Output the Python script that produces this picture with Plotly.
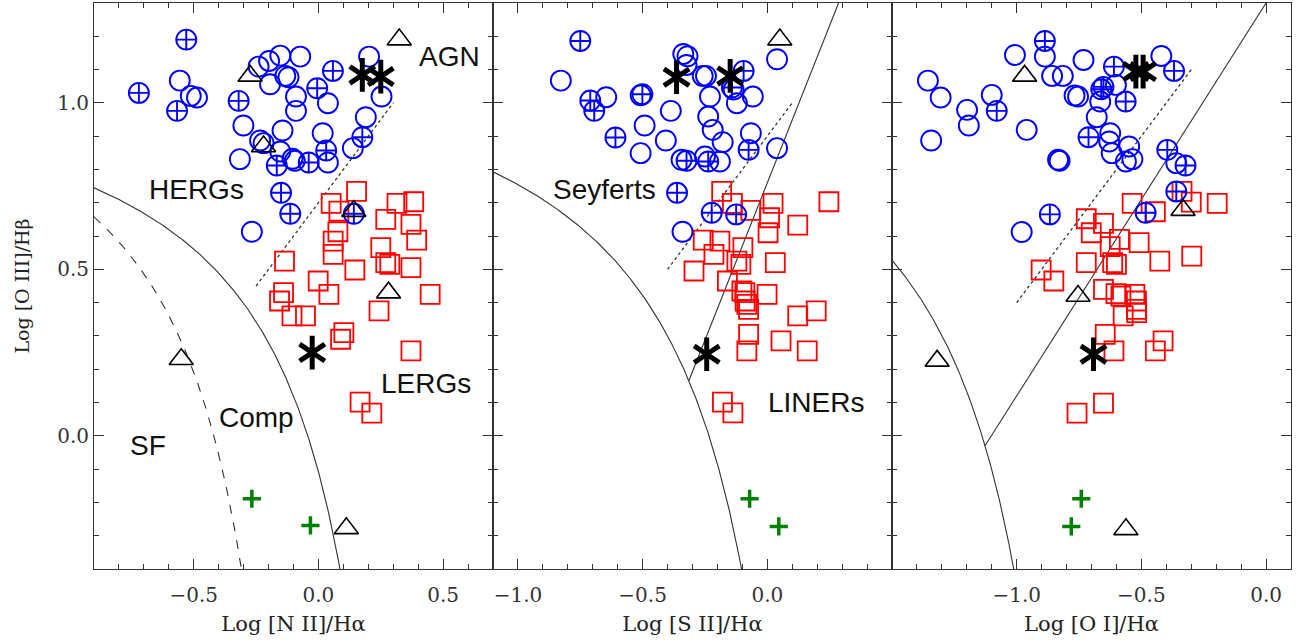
import numpy as np
import plotly.graph_objects as go

# ---------------- data ----------------
# shared y axis: log [O III]/Hb
Y_RANGE = [-0.4, 1.3]
Y_TICKS = [0.0, 0.5, 1.0]
Y_TICKTEXT = ["0.0", "0.5", "1.0"]

# Panel 1: log [N II]/Ha
p1_sq_x = [0.153, 0.051, 0.082, 0.315, 0.382, 0.27, 0.371, 0.078, 0.059, 0.394, 0.25, 0.059, 0.27, 0.286, 0.371,
           0.146, -0.136, -0.001, 0.042, -0.14, -0.156, 0.448, 0.243, -0.106, -0.052, 0.102, 0.089, 0.371, 0.167, 0.214]
p1_sq_y = [0.734, 0.698, 0.675, 0.698, 0.703, 0.65, 0.635, 0.613, 0.585, 0.588, 0.565, 0.545, 0.52, 0.515, 0.505,
           0.498, 0.525, 0.465, 0.425, 0.43, 0.405, 0.425, 0.375, 0.36, 0.36, 0.31, 0.29, 0.255, 0.101, 0.068]
p1_ci_x = [-0.556, -0.512, -0.487, -0.24, -0.198, -0.153, -0.073, -0.133, -0.12, -0.194, -0.09, -0.09, 0.038, -0.301,
           -0.144, -0.234, -0.22, 0.017, -0.315, -0.153, -0.104, -0.095, 0.038, 0.138, 0.19, 0.253, 0.203, -0.267]
p1_ci_y = [1.067, 1.021, 1.016, 1.109, 1.126, 1.142, 1.139, 1.081, 1.077, 1.056, 1.019, 0.976, 0.999, 0.932,
           0.917, 0.887, 0.879, 0.909, 0.831, 0.854, 0.832, 0.826, 0.821, 0.864, 0.957, 1.019, 1.139, 0.613]
p1_cx_x = [-0.53, -0.72, -0.567, -0.32, 0.058, -0.005, -0.167, -0.039, 0.031, 0.176, -0.15, -0.113, 0.142]
p1_cx_y = [1.19, 1.03, 0.976, 1.006, 1.096, 1.044, 0.812, 0.821, 0.857, 0.897, 0.73, 0.667, 0.667]
p1_tr_x = [0.324, -0.274, -0.22, 0.142, 0.281, -0.55, 0.112]
p1_tr_y = [1.19, 1.081, 0.869, 0.675, 0.43, 0.23, -0.278]
p1_as_x = [0.176, 0.25, -0.025]
p1_as_y = [1.084, 1.079, 0.25]
p1_gr_x = [-0.267, -0.032]
p1_gr_y = [-0.189, -0.269]

# Panel 2: log [S II]/Ha
p2_sq_x = [-0.183, -0.14, -0.066, 0.023, 0.009, 0.247, 0.122, 0.003, -0.257, -0.19, -0.098, -0.214, -0.122, -0.106,
           0.032, -0.294, -0.16, -0.102, -0.09, -0.001, -0.089, -0.075, 0.122, 0.196, -0.082, -0.075, -0.082, 0.055,
           0.16, -0.18, -0.138]
p2_sq_y = [0.734, 0.698, 0.677, 0.698, 0.655, 0.703, 0.633, 0.61, 0.588, 0.585, 0.565, 0.545, 0.525, 0.515,
           0.52, 0.495, 0.465, 0.435, 0.43, 0.425, 0.405, 0.38, 0.36, 0.375, 0.395, 0.305, 0.255, 0.285,
           0.255, 0.101, 0.069]
p2_ci_x = [-0.828, -0.646, -0.508, -0.337, -0.32, -0.324, -0.259, -0.246, -0.23, -0.122, -0.058, -0.135, -0.387,
           -0.237, -0.492, -0.219, -0.407, -0.179, -0.066, -0.508, -0.344, -0.25, -0.19, 0.039, 0.039, -0.34]
p2_ci_y = [1.067, 1.017, 1.023, 1.147, 1.14, 1.114, 1.081, 1.081, 1.019, 0.999, 1.019, 1.04, 0.976,
           0.959, 0.932, 0.919, 0.887, 0.882, 0.909, 0.849, 0.829, 0.839, 0.824, 0.864, 1.131, 0.613]
p2_cx_x = [-0.75, -0.71, -0.694, -0.501, -0.609, -0.095, -0.142, -0.324, -0.237, -0.075, -0.362, -0.223, -0.125]
p2_cx_y = [1.186, 1.007, 0.976, 1.026, 0.896, 1.096, 1.046, 0.826, 0.824, 0.859, 0.73, 0.67, 0.665]
p2_tr_x = [0.05]
p2_tr_y = [1.19]
p2_as_x = [-0.364, -0.149, -0.243]
p2_as_y = [1.077, 1.081, 0.245]
p2_gr_x = [-0.071, 0.046]
p2_gr_y = [-0.189, -0.272]

# Panel 3: log [O I]/Ha
p3_sq_x = [-0.337, -0.3, -0.196, -0.537, -0.444, -0.721, -0.652, -0.701, -0.588, -0.509, -0.625, -0.298, -0.426,
           -0.721, -0.615, -0.6, -0.902, -0.851, -0.652, -0.602, -0.582, -0.526, -0.52, -0.52, -0.573, -0.519,
           -0.645, -0.61, -0.413, -0.444, -0.652, -0.758]
p3_sq_y = [0.734, 0.702, 0.698, 0.698, 0.673, 0.652, 0.638, 0.61, 0.59, 0.58, 0.568, 0.54, 0.525,
           0.52, 0.52, 0.515, 0.498, 0.465, 0.44, 0.427, 0.42, 0.425, 0.405, 0.38, 0.36, 0.37,
           0.305, 0.255, 0.285, 0.255, 0.098, 0.068]
p3_ci_x = [-1.356, -1.305, -1.199, -1.192, -1.343, -1.1, -1.007, -0.887, -0.732, -0.42, -0.858, -0.815, -0.768,
           -0.754, -0.602, -0.665, -0.679, -0.96, -0.625, -0.629, -0.549, -0.619, -0.834, -0.828, -0.562, -0.536,
           -0.36, -0.98]
p3_ci_y = [1.067, 1.016, 0.979, 0.932, 0.887, 1.024, 1.144, 1.139, 1.129, 1.141, 1.081, 1.081, 1.022,
           1.019, 1.054, 1.004, 0.957, 0.919, 0.909, 0.884, 0.869, 0.849, 0.829, 0.826, 0.824, 0.831,
           0.819, 0.612]
p3_cx_x = [-0.887, -1.08, -0.61, -0.661, -0.563, -0.369, -0.712, -0.396, -0.323, -0.36, -0.867, -0.483, -0.652]
p3_cx_y = [1.186, 0.976, 1.109, 1.041, 1.004, 1.096, 0.897, 0.859, 0.812, 0.734, 0.665, 0.67, 1.048]
p3_tr_x = [-0.968, -0.333, -0.754, -1.319, -0.562]
p3_tr_y = [1.081, 0.678, 0.42, 0.225, -0.281]
p3_as_x = [-0.522, -0.493, -0.692]
p3_as_y = [1.094, 1.094, 0.245]
p3_gr_x = [-0.741, -0.781]
p3_gr_y = [-0.189, -0.272]

# demarcation-line coefficients (Kewley 2001/2006, Kauffmann 2003)
KEW_N2 = (0.61, 0.47, 1.19)
KAU_N2 = (0.61, 0.05, 1.30)
KEW_S2 = (0.72, 0.32, 1.30)
KEW_O1 = (0.73, -0.59, 1.33)
SEY_S2 = (1.89, 0.76)
SEY_O1 = (1.18, 1.30)
# dotted HERG/LERG separators: (x0, x1, intercept) with unit slope
DOT_P1 = (-0.25, 0.30, 0.70)
DOT_P2 = (-0.40, 0.10, 0.90)
DOT_P3 = (-1.00, -0.30, 1.40)

X_RANGES = [[-0.9, 0.7], [-1.1, 0.5], [-1.5, 0.1]]
X_TICKS = [[-0.5, 0.0, 0.5], [-1.0, -0.5, 0.0], [-1.0, -0.5, 0.0]]
X_TICKTEXT = [["\u22120.5", "0.0", "0.5"], ["\u22121.0", "\u22120.5", "0.0"], ["\u22121.0", "\u22120.5", "0.0"]]
X_TITLES = ["Log [N II]/H\u03b1", "Log [S II]/H\u03b1", "Log [O I]/H\u03b1"]

# ---------------- figure ----------------
fig = go.Figure()
LINE_C = "#333333"


def hyper(c, x):
    a, b, d = c
    return a / (x - b) + d


def add_curve(xs, ys, k, dash="solid", width=1.1):
    fig.add_trace(go.Scatter(x=xs, y=ys, mode="lines", xaxis=f"x{k}", yaxis=f"y{k}",
                             line=dict(color=LINE_C, width=width, dash=dash),
                             showlegend=False, hoverinfo="skip"))


def bottom_x(c):
    a, b, d = c
    return b + a / (Y_RANGE[0] - d)


def sey_start(kc, sc):
    xs = np.linspace(-3, kc[1] - 0.01, 40000)
    diff = sc[0] * xs + sc[1] - hyper(kc, xs)
    i = np.argmin(np.abs(diff))
    return xs[i]


# Panel 1 curves
xx = np.linspace(X_RANGES[0][0], bottom_x(KEW_N2), 300)
add_curve(xx, hyper(KEW_N2, xx), 1)
xx = np.linspace(X_RANGES[0][0], bottom_x(KAU_N2), 300)
add_curve(xx, hyper(KAU_N2, xx), 1, dash="dash")
add_curve([DOT_P1[0], DOT_P1[1]], [DOT_P1[0] + DOT_P1[2], DOT_P1[1] + DOT_P1[2]], 1, dash="dot", width=1.3)

# Panel 2 curves
xx = np.linspace(X_RANGES[1][0], bottom_x(KEW_S2), 300)
add_curve(xx, hyper(KEW_S2, xx), 2)
xs0 = sey_start(KEW_S2, SEY_S2)
xs1 = (Y_RANGE[1] - SEY_S2[1]) / SEY_S2[0]
add_curve([xs0, xs1], [SEY_S2[0] * xs0 + SEY_S2[1], Y_RANGE[1]], 2)
add_curve([DOT_P2[0], DOT_P2[1]], [DOT_P2[0] + DOT_P2[2], DOT_P2[1] + DOT_P2[2]], 2, dash="dot", width=1.3)

# Panel 3 curves
xx = np.linspace(X_RANGES[2][0], bottom_x(KEW_O1), 300)
add_curve(xx, hyper(KEW_O1, xx), 3)
xs0 = sey_start(KEW_O1, SEY_O1)
xs1 = (Y_RANGE[1] - SEY_O1[1]) / SEY_O1[0]
add_curve([xs0, xs1], [SEY_O1[0] * xs0 + SEY_O1[1], Y_RANGE[1]], 3)
add_curve([DOT_P3[0], DOT_P3[1]], [DOT_P3[0] + DOT_P3[2], DOT_P3[1] + DOT_P3[2]], 3, dash="dot", width=1.3)


def pts(x, y, k, symbol, color, size, lw):
    fig.add_trace(go.Scatter(x=x, y=y, mode="markers", xaxis=f"x{k}", yaxis=f"y{k}",
                             marker=dict(symbol=symbol, size=size, color=color,
                                         line=dict(color=color, width=lw)),
                             showlegend=False))


panels = [
    (p1_sq_x, p1_sq_y, p1_ci_x, p1_ci_y, p1_cx_x, p1_cx_y, p1_tr_x, p1_tr_y, p1_as_x, p1_as_y, p1_gr_x, p1_gr_y),
    (p2_sq_x, p2_sq_y, p2_ci_x, p2_ci_y, p2_cx_x, p2_cx_y, p2_tr_x, p2_tr_y, p2_as_x, p2_as_y, p2_gr_x, p2_gr_y),
    (p3_sq_x, p3_sq_y, p3_ci_x, p3_ci_y, p3_cx_x, p3_cx_y, p3_tr_x, p3_tr_y, p3_as_x, p3_as_y, p3_gr_x, p3_gr_y),
]
for k, (sqx, sqy, cix, ciy, cxx, cxy, trx, try_, asx, asy, grx, gry) in enumerate(panels, start=1):
    pts(sqx, sqy, k, "square-open", "#ff0000", 19, 1.8)
    pts(cix, ciy, k, "circle-open", "#0000ff", 20, 1.9)
    pts(cxx, cxy, k, "circle-cross-open", "#0000ff", 20, 1.9)
    pts(trx, try_, k, "triangle-up-open", "#000000", 21, 1.6)
    pts(asx, asy, k, "y-up-open", "#000000", 21, 5)
    pts(asx, asy, k, "y-down-open", "#000000", 21, 5)
    pts(grx, gry, k, "cross-thin-open", "#008000", 13, 3.5)

# ---------------- axes ----------------
bounds = [0.0, 1 / 3, 2 / 3, 1.0]
tick_font = dict(family="DejaVu Serif", size=20, color="#333333")
title_font = dict(family="DejaVu Serif", size=21, color="#222222")


def minor_vals(r):
    return [round(v, 2) for v in np.arange(np.ceil(r[0] * 10) / 10, r[1] + 1e-9, 0.1)]


common = dict(showline=True, linecolor=LINE_C, linewidth=1.0, mirror="allticks",
              ticks="inside", ticklen=10, tickwidth=1.2, tickcolor=LINE_C, automargin=False,
              showgrid=False, zeroline=False, tickfont=tick_font, tickmode="array")
layout = {}
for k in range(1, 4):
    sfx = "" if k == 1 else str(k)
    layout[f"xaxis{sfx}"] = dict(common, domain=[bounds[k - 1], bounds[k]], range=X_RANGES[k - 1],
                                 anchor=f"y{sfx}", tickvals=X_TICKS[k - 1], ticktext=X_TICKTEXT[k - 1],
                                 ticklabelstandoff=8,
                                 minor=dict(tickmode="array", tickvals=minor_vals(X_RANGES[k - 1]),
                                            ticks="inside", ticklen=5, tickwidth=1.1,
                                            tickcolor=LINE_C, showgrid=False),
                                 title=dict(text=X_TITLES[k - 1], font=title_font, standoff=10))
    layout[f"yaxis{sfx}"] = dict(common, domain=[0, 1], range=Y_RANGE, anchor=f"x{sfx}",
                                 tickvals=Y_TICKS, ticktext=Y_TICKTEXT,
                                 minor=dict(tickmode="array", tickvals=minor_vals(Y_RANGE),
                                            ticks="inside", ticklen=5, tickwidth=1.1,
                                            tickcolor=LINE_C, showgrid=False),
                                 showticklabels=(k == 1),
                                 title=dict(text="Log [O III]/H\u03b2" if k == 1 else "",
                                            font=dict(family="DejaVu Serif", size=19, color="#222222"),
                                            standoff=22))
fig.update_layout(**layout)

# ---------------- region labels ----------------
lab_font = dict(family="Liberation Sans", size=28, color="#111111")
labels = [
    (1, "AGN", 0.525, 1.139), (1, "HERGs", -0.49, 0.74), (1, "LERGs", 0.43, 0.158),
    (1, "Comp", -0.247, 0.056), (1, "SF", -0.684, -0.029),
    (2, "Seyferts", -0.653, 0.74), (2, "LINERs", 0.194, 0.101),
]
for k, txt, x, y in labels:
    sfx = "" if k == 1 else str(k)
    fig.add_annotation(x=x, y=y, xref=f"x{sfx}", yref=f"y{sfx}", text=txt, showarrow=False,
                       font=lab_font, xanchor="center", yanchor="middle")

fig.update_layout(width=1296, height=644, margin=dict(l=94, r=5, t=3, b=75, autoexpand=False),
                  paper_bgcolor="white", plot_bgcolor="white", showlegend=False)

fig.write_html("out.html", config={"displayModeBar": False},
               post_script="document.body.style.margin='0px';")
